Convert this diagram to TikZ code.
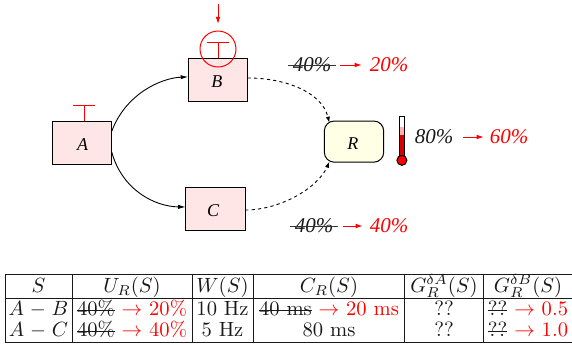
\documentclass[tikz,border=0pt]{standalone}
\usepackage{fontspec}
\usetikzlibrary{arrows.meta}
\newfontfamily\figfont{Liberation Serif}
\definecolor{boxpink}{HTML}{FFE6E6}
\definecolor{boxyellow}{HTML}{FFFFE6}
\newcommand{\stk}[1]{\setbox0\hbox{#1}\rlap{\raise 0.5ex\hbox{\rule{\wd0}{0.4pt}}}\box0\relax}
\newcommand{\rto}[1]{\textcolor{red}{$\rightarrow$ #1}}
\tikzset{
  x=0.5pt,y=-0.5pt,
  basebox/.style={draw=black,line width=0.5pt,minimum width=29.7pt,inner sep=0pt,outer sep=0pt,
    text height=8pt,text depth=0pt,font=\figfont\itshape\fontsize{9}{10}\selectfont},
  pinkbox/.style={basebox,fill=boxpink,minimum height=21.5pt},
  yellowbox/.style={basebox,fill=boxyellow,minimum height=20.6pt,rounded corners=5pt},
  flow/.style={-{Latex[length=3.8pt,width=2.1pt]},line width=0.45pt,black},
  dflow/.style={line width=0.45pt,black,-{Latex[length=3pt,width=2.1pt]},dash pattern=on 1.6pt off 1.6pt},
  redarrow/.style={-{Latex[length=3.6pt,width=2.4pt]},red,line width=0.5pt},
  inhibit/.style={red,line width=0.5pt},
  fig/.style={font=\figfont\itshape\fontsize{10.5}{12}\selectfont,inner sep=0pt,outer sep=0pt},
  figold/.style={fig,inner xsep=2.5pt,text=black!90},
  fignew/.style={fig,text=red},
  strike/.style={line width=0.5pt,black!80},
  grid/.style={line width=0.4pt,black!90},
  cell/.style={anchor=base,inner sep=0pt,outer sep=0pt,text=black!90,scale=1.03,transform shape},
}
\begin{document}
\begin{tikzpicture}
\useasboundingbox (0,0) rectangle (572,344);
% boxes
\node[pinkbox] (a) at (82,142.8) {A\hspace*{-0.6pt}};
\node[pinkbox] (b) at (218,79.5) {B\hspace*{1.2pt}};
\node[pinkbox] (c) at (215.5,208.5) {C\hspace*{2.5pt}};
\node[yellowbox] (r) at (354,141.6) {R\hspace*{1.2pt}};
% connectors
\draw[flow] (a.21) .. controls (125,95) and (160,78) .. (b.175);
\draw[flow] (a.-17) .. controls (122,190) and (155,206.7) .. (c.177);
\draw[dflow] (b.3) .. controls (285,78) and (322,92) .. ([shift={(5,1.7)}]r.north west);
\draw[dflow] (c.-3) .. controls (280,210) and (318,188) .. ([shift={(5,-0.5)}]r.south west);
% inhibition marks
\coordinate (abar) at (84,105.3);
\coordinate (bbar) at (218,42.3);
\coordinate (btop) at (218,4);
\draw[inhibit] (abar) -- (a.north -| abar);
\draw[inhibit] ([xshift=-5.65pt]abar) -- ([xshift=5.65pt]abar);
\draw[inhibit] (bbar) -- (b.north -| bbar);
\draw[inhibit] ([xshift=-5.65pt]bbar) -- ([xshift=5.65pt]bbar);
\node[draw=red,line width=0.5pt,circle,minimum size=18pt,inner sep=0pt,outer sep=0pt] (ring) at (218,49) {};
\draw[redarrow] (btop) -- (ring.north |- 0,24);
% percent labels
\node[figold] (o1) at (312,65) {40\%};
\node[fignew] (n1) at (389,65) {20\%};
\draw[strike] (o1.west) -- (o1.east);
\draw[redarrow,shorten <=2pt,shorten >=4pt] (o1.east) -- (n1.west);
\node[figold] (o2) at (314,226) {40\%};
\node[fignew] (n2) at (389,226) {40\%};
\draw[strike] (o2.west) -- (o2.east);
\draw[redarrow,shorten <=2.5pt,shorten >=3.5pt] (o2.east) -- (n2.west);
\node[fig,text=black!90] (o3) at (434,137) {80\%};
\node[fignew] (n3) at (509,137) {60\%};
\draw[redarrow,shorten <=5pt,shorten >=3pt] (o3.east) -- (n3.west);
% thermometer
\fill[white] (399.3,116.7) rectangle (404.7,127);
\fill[red!30] (399.3,126.7) rectangle (404.7,135);
\fill[red!85!black] (399.3,135) rectangle (404.7,158);
\draw[black,line width=0.5pt] (399.3,157) -- (399.3,116.7) -- (404.7,116.7) -- (404.7,157);
\draw[black,line width=0.5pt,fill=red] (401.9,160.3) circle (5);
% table
\draw[grid] (5,274.3) -- (572,274.3);
\draw[grid] (5,298.3) -- (572,298.3);
\draw[grid] (5,342.3) -- (572,342.3);
\foreach \xx in {5,72,192,253,404.5,483.3}
  \draw[grid] (\xx,274.3) -- (\xx,342.3);
\node[cell] (h1) at (38.5,292) {$S$};
\node[cell] (h2) at (132,292) {$U_R(S)$};
\node[cell] (h3) at (222.5,292) {$W(S)$};
\node[cell] (h4) at (329,292) {$C_R(S)$};
\node[cell] (h5) at (444,292) {$G_R^{\delta A}(S)$};
\node[cell] (h6) at (528,292) {$G_R^{\delta B}(S)$};
\node[cell] (c11) at (38.5,315) {$A\mskip1mu-\mskip1mu B$};
\node[cell] (c12) at (132,315) {\stk{40\%} \rto{20\%}};
\node[cell] (c13) at (222.5,315) {10 Hz};
\node[cell] (c14) at (329,315) {\stk{40 ms} \rto{20 ms}};
\node[cell] (c15) at (444,315) {??};
\node[cell] (c16) at (528,315) {\stk{??} \rto{0.5}};
\node[cell] (c21) at (38.5,336) {$A\mskip1mu-\mskip1mu C$};
\node[cell] (c22) at (132,336) {\stk{40\%} \rto{40\%}};
\node[cell] (c23) at (222.5,336) {5 Hz};
\node[cell] (c24) at (329,336) {80 ms};
\node[cell] (c25) at (444,336) {??};
\node[cell] (c26) at (528,336) {\stk{??} \rto{1.0}};
\end{tikzpicture}
\end{document}
